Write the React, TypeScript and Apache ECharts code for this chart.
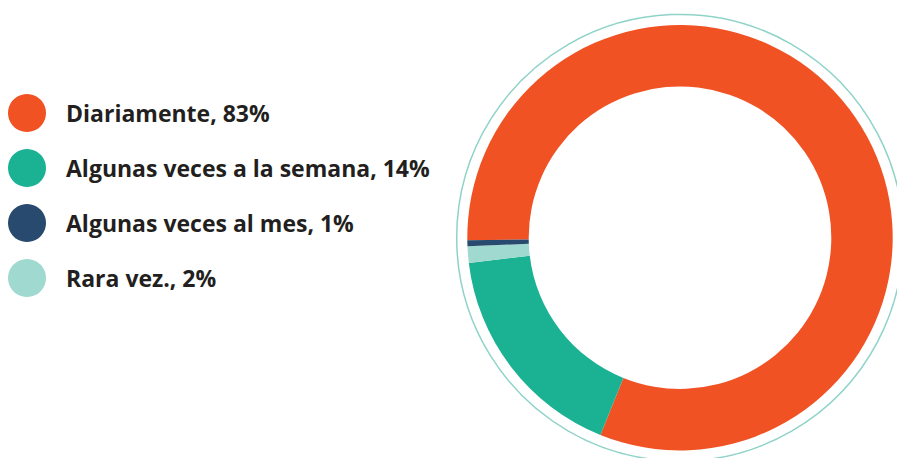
import React, { useEffect, useRef } from "react";
import * as echarts from "echarts";

const categories = [
  "Diariamente, 83%",
  "Algunas veces a la semana, 14%",
  "Algunas veces al mes, 1%",
  "Rara vez., 2%",
];
// arc shares as drawn in the picture (clockwise from the left)
const sliceOrder = [
  "Diariamente, 83%",
  "Algunas veces a la semana, 14%",
  "Rara vez., 2%",
  "Algunas veces al mes, 1%",
];
const sliceValues = [81.3, 17.0, 1.25, 0.45];
const colorMap: Record<string, string> = {
  "Diariamente, 83%": "#F05224",
  "Algunas veces a la semana, 14%": "#1BB294",
  "Algunas veces al mes, 1%": "#284A6E",
  "Rara vez., 2%": "#A0D9CF",
};

export default function App() {
  const ref = useRef<HTMLDivElement>(null);
  useEffect(() => {
    document.body.style.margin = "0";
    const chart = echarts.init(ref.current!, null, { renderer: "svg" });
    const cx = 680;
    const cy = 237.7;
    chart.setOption({
      animation: false,
      legend: {
        data: categories,
        orient: "vertical",
        left: 8,
        top: 94,
        padding: 0,
        icon: "circle",
        itemWidth: 38,
        itemHeight: 38,
        itemGap: 17,
        selectedMode: false,
        textStyle: {
          fontFamily: "Open Sans",
          fontWeight: "bold",
          fontSize: 23,
          color: "#231F20",
          padding: [0, 0, 0, 15],
        },
      },
      graphic: [
        {
          type: "circle",
          shape: { cx, cy, r: 223.3 },
          style: { fill: "none", stroke: "#8FD3C8", lineWidth: 1.5 },
          silent: true,
        },
      ],
      series: [
        {
          type: "pie",
          center: [cx, cy],
          radius: [151.3, 212.7],
          startAngle: 180.7,
          clockwise: true,
          label: { show: false },
          labelLine: { show: false },
          emphasis: { disabled: true },
          silent: true,
          itemStyle: { borderWidth: 0 },
          data: sliceOrder.map((n, i) => ({
            name: n,
            value: sliceValues[i],
            itemStyle: { color: colorMap[n] },
          })),
        },
      ],
    });
    return () => chart.dispose();
  }, []);
  return <div ref={ref} style={{ width: 897, height: 458 }} />;
}
